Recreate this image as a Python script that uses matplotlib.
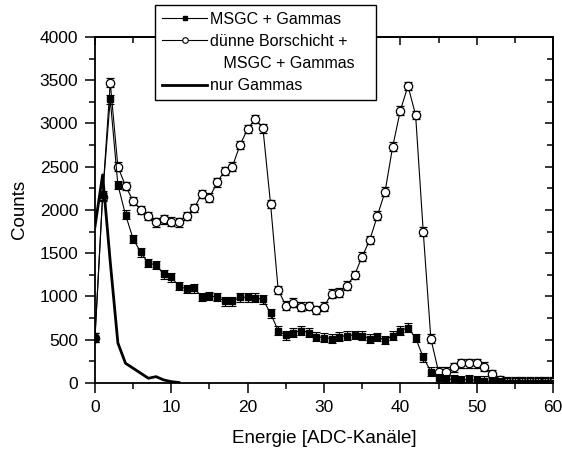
import matplotlib
matplotlib.use('Agg')
import matplotlib.pyplot as plt
from matplotlib.lines import Line2D
from matplotlib.ticker import MultipleLocator

plt.rcParams['font.family'] = ['Liberation Sans', 'DejaVu Sans']

# ------------------------------------
#   data
# ------------------------------------

# MSGC + Gammas (filled squares), channel 0..60
msgc_x = list(range(0, 61))
msgc_y = [525, 2170, 3280, 2290, 1945, 1665, 1510, 1385, 1365, 1255,
          1222, 1120, 1085, 1095, 995, 1005, 995, 945, 945, 990,
          990, 985, 965, 805, 605, 550, 582, 605, 582, 535,
          525, 512, 535, 547, 555, 547, 512, 530, 495, 547,
          605, 640, 520, 297, 131, 52, 46, 40, 35, 40,
          30, 25, 15, 8, 5, 5, 5, 5, 5, 5, 5]

# duenne Borschicht + MSGC + Gammas (open circles)
bor_x = list(range(0, 61))
bor_y = [525, 2150, 3472, 2500, 2277, 2104, 2000, 1931, 1858, 1892,
         1865, 1858, 1931, 2022, 2185, 2142, 2320, 2451, 2501, 2751,
         2936, 3052, 2944, 2069, 1075, 894, 929, 882, 890, 844,
         882, 1033, 1044, 1123, 1247, 1460, 1653, 1934, 2212, 2732,
         3148, 3434, 3098, 1749, 512, 131, 131, 181, 227, 227,
         227, 189, 104, 30, 15, 15, 15, 15, 15, 15, 15]

# nur Gammas (thick line)
gam_x = [0, 1, 2, 3, 4, 5, 6, 7, 8, 9, 10, 11]
gam_y = [1807, 2405, 1400, 462, 227, 170, 112, 54, 73, 35, 15, 5]

# legend rows (second label is wrapped onto an indented row)
labels = ['MSGC + Gammas', 'dünne Borschicht +', '   MSGC + Gammas   ', 'nur Gammas']

err = 50  # error bar half-height

fig = plt.figure(figsize=(5.62, 4.5), dpi=100)
ax = fig.add_axes([0.169, 0.149, 0.8150, 0.769])

'''Open circles'''
ax.errorbar(bor_x, bor_y, yerr=err, color='black', lw=0.8, elinewidth=0.8,
            capsize=3, capthick=0.8, marker='o', ms=6, mfc='white',
            mec='black', mew=0.9, zorder=3)

'''Filled squares'''
ax.errorbar(msgc_x, msgc_y, yerr=err, color='black', lw=0.8, elinewidth=0.8,
            capsize=3, capthick=0.8, marker='s', ms=5, mfc='black',
            mec='black', zorder=4)

'''Thick line'''
ax.plot(gam_x, gam_y, color='black', lw=2.0, zorder=5)

ax.set_xlim(0, 60)
ax.set_ylim(0, 4000)
ax.xaxis.set_major_locator(MultipleLocator(10))
ax.xaxis.set_minor_locator(MultipleLocator(5))
ax.yaxis.set_major_locator(MultipleLocator(500))
ax.yaxis.set_minor_locator(MultipleLocator(250))
ax.tick_params(which='major', direction='out', length=7, width=1.1, pad=5,
               labelsize=12.5, top=False, right=False)
ax.tick_params(which='minor', direction='out', length=4, width=1.1,
               top=False, right=False)
for s in ax.spines.values():
    s.set_linewidth(1.3)

# inward ticks on top and right
top = ax.secondary_xaxis('top')
top.xaxis.set_major_locator(MultipleLocator(10))
top.xaxis.set_minor_locator(MultipleLocator(5))
top.tick_params(which='major', direction='in', length=6, width=1.1, labeltop=False)
top.tick_params(which='minor', direction='in', length=4, width=1.1)
right = ax.secondary_yaxis('right')
right.yaxis.set_major_locator(MultipleLocator(500))
right.yaxis.set_minor_locator(MultipleLocator(250))
right.tick_params(which='major', direction='in', length=6, width=1.1, labelright=False)
right.tick_params(which='minor', direction='in', length=4, width=1.1)
for sec in (top, right):
    for s in sec.spines.values():
        s.set_linewidth(1.3)

ax.set_xlabel('Energie [ADC-Kanäle]', fontsize=13.5, labelpad=11)
ax.set_ylabel('Counts', fontsize=13.5, labelpad=8)

'''Legend (line + marker only, no error bars)'''
handles = [
    Line2D([], [], color='black', lw=0.8, marker='s', ms=3.5, mfc='black'),
    Line2D([], [], color='black', lw=0.8, marker='o', ms=4, mfc='white', mew=0.8),
    Line2D([], [], color='none', lw=0),
    Line2D([], [], color='black', lw=2.0),
]
leg = fig.legend(handles, labels, loc='upper left',
                 bbox_to_anchor=(0.276, 0.99),
                 fontsize=11.5, frameon=True, fancybox=False, framealpha=1,
                 edgecolor='black', handlelength=2.8, handletextpad=0.2,
                 labelspacing=0.45, borderpad=0.45, borderaxespad=0)
leg.get_frame().set_linewidth(1.0)
leg.set_zorder(10)

fig.savefig('out.png', dpi=100)
